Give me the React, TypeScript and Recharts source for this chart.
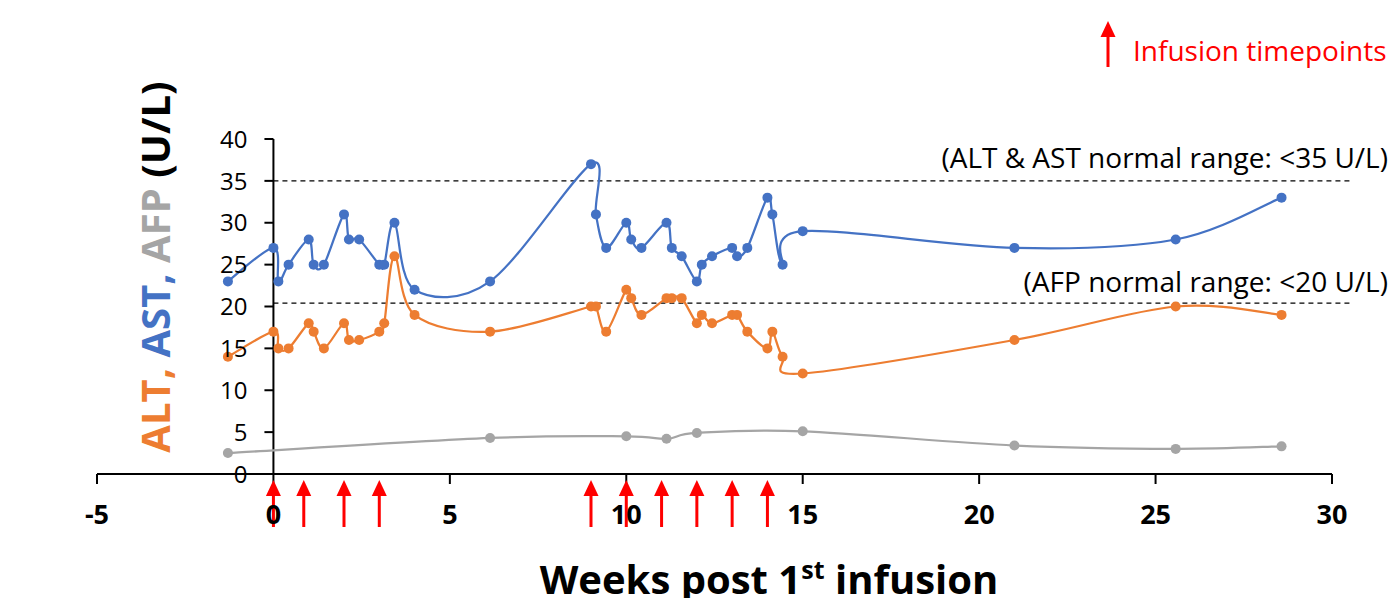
import React from 'react'
import {
  ComposedChart,
  Line,
  Scatter,
  XAxis,
  YAxis,
  ReferenceLine,
} from 'recharts'

// weeks relative to the first infusion (lab draws)
const labWeeks = [
  -1.29, 0, 0.14, 0.43, 1, 1.14, 1.43, 2, 2.14, 2.43, 3, 3.14, 3.43, 4, 6.14,
  9, 9.14, 9.43, 10, 10.14, 10.43, 11.14, 11.29, 11.57, 12, 12.14, 12.43, 13,
  13.14, 13.43, 14, 14.14, 14.43, 15, 21, 25.57, 28.57,
]
const astValues = [
  23, 27, 23, 25, 28, 25, 25, 31, 28, 28, 25, 25, 30, 22, 23, 37, 31, 27, 30,
  28, 27, 30, 27, 26, 23, 25, 26, 27, 26, 27, 33, 31, 25, 29, 27, 28, 33,
]
const altValues = [
  14, 17, 15, 15, 18, 17, 15, 18, 16, 16, 17, 18, 26, 19, 17, 20, 20, 17, 22,
  21, 19, 21, 21, 21, 18, 19, 18, 19, 19, 17, 15, 17, 14, 12, 16, 20, 19,
]
const afpWeeks = [-1.29, 6.14, 10, 11.14, 12, 15, 21, 25.57, 28.57]
const afpValues = [2.5, 4.3, 4.5, 4.2, 4.9, 5.1, 3.4, 3.0, 3.3]
const infusionWeeks = [0, 0.86, 2, 3, 9, 10, 11, 12, 13, 14]

const xTicks = [-5, 0, 5, 10, 15, 20, 25, 30]
const yTicks = [0, 5, 10, 15, 20, 25, 30, 35, 40]
const X_DOMAIN = [-5, 30]
const ALT_AST_LIMIT = 35
const AFP_LIMIT_LINE = 20.4

const labData = labWeeks.map((x, i) => ({ x, ast: astValues[i], alt: altValues[i] }))
const afpData = afpWeeks.map((x, i) => ({ x, afp: afpValues[i] }))
const infusionData = infusionWeeks.map((x) => ({ x, y: 0 }))

const FONT = '"Open Sans", sans-serif'
const BLUE = '#4472C4'
const ORANGE = '#ED7D31'
const GRAY = '#A5A5A5'
const RED = '#FF0000'

const W = 1390
const H = 598
const MARGIN = { top: 139, right: 58, bottom: 64, left: 57 }
const Y_AXIS_W = 40
const PLOT_LEFT = MARGIN.left + Y_AXIS_W
const PLOT_W = W - PLOT_LEFT - MARGIN.right
// pixel x of week 0, where Excel crosses the value axis
const X0 = PLOT_LEFT + ((0 - X_DOMAIN[0]) / (X_DOMAIN[1] - X_DOMAIN[0])) * PLOT_W

// Excel-like smoothed line (catmull-rom style bezier)
const excelCurve = (context: any) => {
  let pts: number[][] = []
  return {
    areaStart() {},
    areaEnd() {},
    lineStart() {
      pts = []
    },
    point(x: number, y: number) {
      pts.push([+x, +y])
    },
    lineEnd() {
      const n = pts.length
      if (!n) return
      context.moveTo(pts[0][0], pts[0][1])
      for (let i = 0; i < n - 1; i++) {
        const p0 = pts[Math.max(i - 1, 0)]
        const p1 = pts[i]
        const p2 = pts[i + 1]
        const p3 = pts[Math.min(i + 2, n - 1)]
        context.bezierCurveTo(
          p1[0] + (p2[0] - p0[0]) / 6,
          p1[1] + (p2[1] - p0[1]) / 6,
          p2[0] - (p3[0] - p1[0]) / 6,
          p2[1] - (p3[1] - p1[1]) / 6,
          p2[0],
          p2[1]
        )
      }
    },
  }
}

const YTick = (props: any) => {
  const { y, payload } = props
  return (
    <g>
      <line x1={X0 - 9} x2={X0} y1={y} y2={y} stroke='#000' strokeWidth={2} />
      <text
        x={X0 - 26}
        y={y}
        dy='0.36em'
        textAnchor='end'
        fontSize={24}
        fontFamily={FONT}
        fill='#000'
      >
        {payload.value}
      </text>
    </g>
  )
}

const InfusionArrow = (props: any) => {
  const { cx, cy } = props
  return (
    <g>
      <line x1={cx} x2={cx} y1={cy + 20} y2={cy + 53} stroke={RED} strokeWidth={3} />
      <polygon
        points={`${cx - 7.5},${cy + 22} ${cx + 7.5},${cy + 22} ${cx},${cy + 6}`}
        fill={RED}
      />
    </g>
  )
}

const rangeLabel = (text: string, lift: number) => (props: any) => {
  const vb = props.viewBox || {}
  return (
    <text
      x={W - 2}
      y={(vb.y ?? 0) - lift}
      textAnchor='end'
      fontSize={28}
      fontFamily={FONT}
      fill='#000'
    >
      {text}
    </text>
  )
}

const App = () => {
  return (
    <div style={{ position: 'absolute', left: 0, top: 0, width: W, height: H, background: '#fff' }}>
      <ComposedChart width={W} height={H} margin={MARGIN}>
        <XAxis
          type='number'
          dataKey='x'
          domain={X_DOMAIN}
          ticks={xTicks}
          interval={0}
          height={60}
          tickSize={10}
          tickMargin={21}
          axisLine={{ stroke: '#000', strokeWidth: 2 }}
          tickLine={{ stroke: '#000', strokeWidth: 2 }}
          tick={{ fill: '#000', fontSize: 27, fontWeight: 700, fontFamily: FONT }}
        />
        <YAxis
          type='number'
          domain={[0, 40]}
          ticks={yTicks}
          interval={0}
          width={Y_AXIS_W}
          axisLine={false}
          tickLine={false}
          tick={(p: any) => <YTick {...p} />}
        />
        <ReferenceLine x={0} stroke='#000' strokeWidth={2} />
        <ReferenceLine
          segment={[{ x: 0, y: ALT_AST_LIMIT }, { x: 30.5, y: ALT_AST_LIMIT }]}
          ifOverflow='visible'
          stroke='#000'
          strokeWidth={1.3}
          strokeDasharray='5 4'
          label={rangeLabel('(ALT & AST normal range: <35 U/L)', 13)}
        />
        <ReferenceLine
          segment={[{ x: 0, y: AFP_LIMIT_LINE }, { x: 30.5, y: AFP_LIMIT_LINE }]}
          ifOverflow='visible'
          stroke='#000'
          strokeWidth={1.3}
          strokeDasharray='5 4'
          label={rangeLabel('(AFP normal range: <20 U/L)', 11)}
        />
        <Line
          data={afpData}
          dataKey='afp'
          type={excelCurve as any}
          stroke={GRAY}
          strokeWidth={2.25}
          dot={{ r: 5, fill: GRAY, stroke: GRAY, strokeWidth: 0 }}
          activeDot={false}
          isAnimationActive={false}
        />
        <Line
          data={labData}
          dataKey='ast'
          type={excelCurve as any}
          stroke={BLUE}
          strokeWidth={2.25}
          dot={{ r: 5, fill: BLUE, stroke: BLUE, strokeWidth: 0 }}
          activeDot={false}
          isAnimationActive={false}
        />
        <Line
          data={labData}
          dataKey='alt'
          type={excelCurve as any}
          stroke={ORANGE}
          strokeWidth={2.25}
          dot={{ r: 5, fill: ORANGE, stroke: ORANGE, strokeWidth: 0 }}
          activeDot={false}
          isAnimationActive={false}
        />
        <Scatter
          data={infusionData}
          dataKey='y'
          shape={InfusionArrow}
          isAnimationActive={false}
        />
        {/* axis titles and the arrow key */}
        <text
          x={170}
          y={267}
          transform='rotate(-90 170 267)'
          textAnchor='middle'
          fontSize={40}
          fontWeight={700}
          fontFamily={FONT}
        >
          <tspan fill={ORANGE}>ALT, </tspan>
          <tspan fill={BLUE}>AST, </tspan>
          <tspan fill={GRAY}>AFP </tspan>
          <tspan fill='#000'>(U/L)</tspan>
        </text>
        <text
          x={769}
          y={594}
          textAnchor='middle'
          fontSize={40}
          fontWeight={700}
          fontFamily={FONT}
          fill='#000'
        >
          Weeks post 1
          <tspan dy={-15} fontSize={25}>st</tspan>
          <tspan dy={15}> infusion</tspan>
        </text>
        <g>
          <line x1={1108} x2={1108} y1={34} y2={67} stroke={RED} strokeWidth={3} />
          <polygon points='1100.5,37 1115.5,37 1108,21' fill={RED} />
          <text x={1133} y={61} fontSize={28} fontFamily={FONT} fill={RED}>
            Infusion timepoints
          </text>
        </g>
      </ComposedChart>
    </div>
  )
}

export default App
